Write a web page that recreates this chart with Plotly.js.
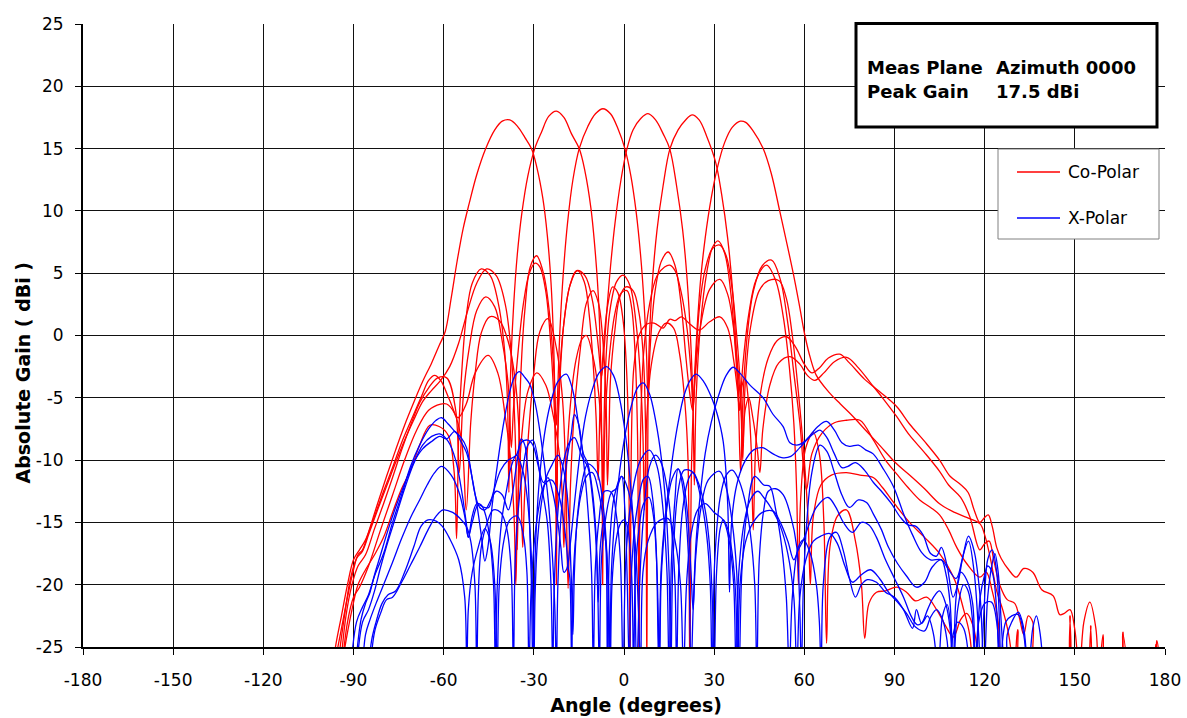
<!DOCTYPE html>
<html>
<head>
<meta charset="utf-8">
<script src="https://cdn.plot.ly/plotly-3.0.1.min.js"></script>
<style>html,body{margin:0;padding:0;background:#fff;}#chart{width:1187px;height:718px;}</style>
</head>
<body>
<div id="chart"></div>
<script>
// ---- axis ticks ----
const xTicks = [-180,-150,-120,-90,-60,-30,0,30,60,90,120,150,180];
const yTicks = [-25,-20,-15,-10,-5,0,5,10,15,20,25];

// ---- Co-Polar curves: [angle (deg), gain (dBi)] ----
const coPol1 = [[-96,-26],[-94,-23.5],[-92,-21],[-90,-18.8],[-88.5,-17.6],[-87,-17.2],[-85,-15.8],[-82,-13.5],[-79,-11.3],[-76,-9.2],[-73,-7.2],[-70,-5.4],[-67,-3.7],[-64,-2.2],[-61.5,-0.8],[-59.5,0.3],[-57.5,3],[-55.5,6],[-53.5,8.6],[-51.5,10.6],[-49,12.9],[-46,15],[-43,16.5],[-40.5,17.2],[-38,17.3],[-35.5,16.8],[-33,15.9],[-30.8,15],[-29,13.5],[-27,11],[-25.5,8],[-24.3,4.3],[-23.5,0],[-23,-5],[-22.7,-11],[-22.5,-20],[-22.2,-10],[-21.5,-3.5],[-20,1],[-18,4],[-15.5,5.2],[-13.2,4.3],[-11.5,1.5],[-10.2,-2.5],[-9.3,-6.5],[-8.6,-11.6],[-8,-6],[-7,-1.5],[-5.5,2.3],[-3.8,3.9],[-2,3.4],[-0.3,1.2],[0.8,-2.5],[1.5,-8],[2,-28],[2.5,-8],[3.3,-2.5],[5,0],[7.5,0.9],[10,1],[13,0.6],[15.2,1.3],[17,1.2],[19.1,1.5],[22,0.9],[25,0.44],[28.5,1.1],[31.9,1.5],[34.5,0.6],[36.5,-2],[37.8,-4.5],[38.5,-6],[39.3,-4],[40.3,-3.4],[41.3,-5],[42.3,-9],[43,-15.6],[43.8,-9],[45.5,-4.5],[48,-1.8],[51,-0.4],[54.1,-0.1],[57,-0.9],[60,-2.3],[62.5,-3],[65,-2.6],[68,-1.8],[71.8,-1.5],[75,-2.2],[80,-3.5],[85,-4.5],[90.7,-5.7],[95,-7.1],[100,-8.5],[105,-10],[108.5,-11.3],[111.7,-11.9],[114.5,-12.6],[116.5,-14],[118.4,-15],[120,-14.6],[121.2,-14.4],[122.5,-15.3],[124,-17],[125.5,-17.9],[128,-18.8],[130.5,-19.4],[133,-18.7],[136,-19],[139,-20.4],[142.8,-20.9],[145,-22.4],[146.5,-22.3],[148.4,-22],[150,-23.6],[151.5,-27],[153,-23],[155,-21.4],[157,-23.5],[158,-27],[159.4,-24],[160.5,-27],[165,-27],[166,-23.8],[167.3,-27],[176,-27],[177.3,-24.5],[178.5,-27]];

const coPol2 = [[-93.5,-26],[-92.5,-24.5],[-90.5,-22],[-88.5,-20],[-86,-18.8],[-83,-17.6],[-80,-16.2],[-77,-14.2],[-74,-12.3],[-71,-10.8],[-68,-8.8],[-64.6,-7.2],[-61.5,-7.3],[-58.5,-8],[-56.5,-11],[-55.7,-16.3],[-55,-8],[-54,-3],[-52.5,1.5],[-50.5,4.2],[-47.5,5.35],[-44.5,4.8],[-42,2.8],[-40,-0.5],[-38.8,-5],[-38.3,-12.6],[-38,-6],[-37.6,-2],[-36.7,2.5],[-35.5,6.5],[-34,9.8],[-32,12.8],[-29.7,15],[-27.5,16.3],[-25,17.6],[-22.5,18.0],[-20,17.5],[-17.5,16.2],[-14.9,15],[-13,13.2],[-11,10.2],[-9.5,6.5],[-8.4,2.5],[-7.7,-3],[-7.3,-10],[-7.1,-20],[-6.8,-10],[-6.2,-3],[-4.8,1.8],[-2.5,4.3],[-0.3,4.85],[2,4],[4,1],[5.5,-3.5],[6.3,-8],[6.8,-14],[7.5,-7],[9,-2.5],[11.5,0.2],[14,1],[16.5,0.6],[18.5,-1.5],[20.3,-5.5],[21.3,-10],[21.9,-27],[22.5,-10],[23.6,-3.5],[25.5,0.8],[28.5,3.7],[31.9,4.5],[34.5,3.3],[36.5,0.5],[38,-3],[39,-6],[39.5,-9],[40.3,-6],[41.5,-5],[42.8,-6.5],[44.3,-9],[45.2,-11],[46.2,-7.5],[48.5,-4],[51.5,-2.2],[55.2,-1.7],[58.5,-2.3],[61,-3.2],[63.5,-3.6],[66.5,-3],[70,-2.1],[74.1,-1.75],[78,-2.6],[82,-3.8],[86,-5],[90.7,-6.5],[95,-8],[100,-9.4],[105,-10.9],[108,-12],[112,-13],[115,-14.5],[118.4,-17.2],[120,-16.7],[121.5,-16.5],[123,-18],[125,-20],[127.5,-21.2],[130,-21.5],[131.5,-22.6],[133,-24],[134.5,-22.5],[136,-23],[137.5,-27],[154,-27],[155.3,-23.3],[156.5,-27],[175.5,-27],[177,-24.8],[178,-27]];

const coPol3 = [[-95,-26],[-93,-22.5],[-91,-19.5],[-89,-17.9],[-87,-17.3],[-85,-16],[-82,-14],[-79,-12.1],[-76,-10.2],[-73,-8.4],[-70,-6.8],[-67,-5.3],[-64,-4.4],[-61,-3.6],[-58,-2.5],[-55,-0.6],[-52,2],[-49,4.2],[-45.7,5.35],[-42.5,4.8],[-39.5,2.5],[-37.5,-1.5],[-36.2,-8],[-35.5,-17.2],[-35,-9],[-34.3,-3],[-33,2],[-31.2,5.5],[-29.1,6.4],[-26.8,5],[-24.8,1.8],[-23.3,-3],[-22.5,-7.2],[-22,-4],[-21.3,0.5],[-20.2,5],[-18.8,9],[-17,12.5],[-14.9,15],[-12,16.8],[-9.5,17.8],[-7,18.2],[-4.5,17.8],[-2,16.6],[0.3,15],[2.3,12.8],[4,10],[5.5,6.5],[6.7,2.5],[7.5,-1.5],[8,-5.2],[8.7,-1],[10.3,3.5],[12.5,6],[14.7,6.7],[17,5.6],[19,2.5],[20.5,-1.5],[21.8,-4.5],[22.8,-6],[23.7,-3],[25,2],[27,5.3],[29.5,7],[31.9,7.25],[34,6.4],[36,3.7],[37.5,0],[38.7,-4],[39.5,-10],[40.3,-4],[42,0.5],[45,3.6],[48,4.4],[51.6,4.4],[54,3],[56,0],[58,-4.5],[60,-10],[61.3,-15],[62,-20],[63,-14.5],[65.5,-12],[69,-11.2],[74,-11],[78.5,-11.2],[82.9,-11.4],[86,-12.2],[90,-13.5],[95,-15],[100,-16.2],[105,-17.5],[110,-19.6],[113,-22],[115,-24],[116,-27]];

const coPol4 = [[-94.5,-27],[-92.5,-22.5],[-90.5,-20],[-88.5,-18.5],[-86,-17.6],[-83,-15.5],[-80,-13.5],[-77,-11.4],[-74,-9.2],[-71,-7.2],[-68,-5.4],[-65,-4.2],[-62,-3.4],[-59,-3.4],[-56,-6],[-54.8,-11],[-53.5,-5],[-51.5,-1],[-49,2],[-46,3.1],[-43,2.3],[-40.5,-0.5],[-38.5,-4],[-37.5,-9],[-36.8,-6],[-35.5,-2],[-33.5,2.5],[-31.5,5],[-29.6,5.8],[-28,5.5],[-26,3.5],[-24.3,-1],[-23,-7],[-22.4,-14.8],[-22,-8],[-21.2,-3],[-20,1],[-18,4],[-15.8,5.2],[-13,4.8],[-10.5,2.8],[-8.5,-1],[-7.5,-3.3],[-6.6,-1],[-5.7,2],[-4.5,5.5],[-3,9],[-1,12.5],[1,15],[3,16.5],[5.5,17.4],[8,17.8],[10.5,17.3],[13,16.2],[15.2,15],[17.5,12],[19.5,8.5],[21,4.5],[22.3,-1],[23,-6],[23.4,-12],[24,-5],[25.5,1],[27.5,5],[29.5,7.1],[31.3,7.6],[33.5,6.6],[35.5,3.5],[37,-1],[38,-5],[38.8,-11],[39.6,-5],[41,0],[43,3.5],[46,5.6],[49.1,6.05],[52,4.5],[54.5,1],[56.5,-3],[58.5,-7],[60.7,-12.4],[62.5,-9.5],[66,-7.8],[70,-7],[74,-6.8],[78.5,-6.8],[83,-8.4],[87,-10],[90.7,-11.1],[94.5,-12.2],[98.4,-13.2],[102,-13.8],[105,-14.4],[108,-15.6],[110.7,-17],[114,-18.3],[118.4,-19.4],[120.5,-19],[122.5,-20.5],[124.5,-23],[126,-27],[129,-27],[131,-23.6],[132.5,-27],[147,-27],[148.4,-22.5],[150,-27],[164.5,-27],[166,-24],[167.5,-27]];

const coPol5 = [[-94,-27],[-92,-23],[-90,-21],[-88,-20.2],[-85,-18.5],[-81,-15.6],[-77,-12.8],[-73,-10],[-69,-7.6],[-65,-6],[-61,-5.5],[-59,-5.5],[-56.5,-6.2],[-54,-8.5],[-52.5,-14],[-51,-7],[-49.5,-3],[-47.5,0.2],[-44.7,1.5],[-41.5,1.2],[-38.5,-0.5],[-36,-4],[-34.5,-10],[-33.7,-17],[-33.1,-13],[-31.8,-8],[-30,-3],[-28,0.3],[-25.3,1.35],[-22.5,-1],[-20.5,-5],[-19.4,-11],[-18.6,-20.3],[-17.8,-12],[-16.5,-6],[-14.5,-1],[-12.5,2.6],[-10.3,3.6],[-8.5,2.6],[-7,-0.5],[-6,-5],[-5.5,-12],[-5,-8],[-4.5,-3.5],[-3,0.5],[-1.5,3],[0.6,3.9],[3,3.6],[5,1.8],[6.5,-2],[7.2,-8],[7.6,-27],[8,-5],[8.5,0],[9.5,4.5],[11,8.5],[13,12],[15.3,15],[18,16.5],[20.5,17.3],[22.7,17.7],[25,17.3],[27.5,16],[30.5,13.9],[32.5,11.3],[34.5,7.8],[36,4],[37.2,-0.5],[38,-4],[38.5,-6],[39.5,-2.5],[41.5,1.7],[44,4.5],[47.4,5.65],[50.5,4.4],[53,1.5],[55,-2.5],[56.5,-7],[57.5,-13],[58,-20],[58.8,-13],[60.5,-9],[63,-7.8],[65,-9.5],[66.5,-15],[67.4,-24.7],[68.5,-17],[71,-14.5],[74,-14],[77,-16.5],[79,-20],[80.1,-24.3],[81.5,-21.5],[84,-20.6],[87,-20.5],[90.7,-20.2],[94,-20.6],[97,-21.3],[100.7,-21],[104,-22],[107,-23.3],[109.6,-24.2],[112,-22.8],[114,-22.3],[116,-23.2],[117.5,-25],[118.5,-27]];

const coPol6 = [[-97,-27],[-96,-25],[-94,-22.5],[-92,-20],[-90,-18],[-88,-17.2],[-86,-16.4],[-83,-14.5],[-80,-12.5],[-77,-10.6],[-74,-8.6],[-71,-6.9],[-67.4,-4.9],[-65,-3.6],[-63,-3.2],[-61,-3.6],[-58,-5.2],[-55.2,-6.6],[-52.5,-5.5],[-49.5,-3],[-45.2,-1.6],[-42,-3],[-39.5,-6.5],[-37.7,-10],[-36.5,-15],[-36,-20],[-35.4,-14],[-34,-8],[-32,-4.5],[-29,-3],[-26,-4],[-23.5,-6.5],[-21.5,-9.5],[-20.5,-13],[-20,-17],[-19.4,-12],[-18,-6],[-16,-2],[-14,-0.3],[-12.5,0],[-10.5,-1.5],[-8.5,-4.5],[-7.5,-8],[-6.9,-14],[-6.3,-7],[-5,-2],[-3,1.8],[-1,3.4],[1,3.6],[2.5,2.3],[3.7,-1.5],[4.5,-8],[5,-27],[5.5,-8],[6.5,-1.5],[8.5,2.5],[11,4.8],[13.5,5.5],[15.2,5.65],[17,5.2],[19,3.5],[21,0.5],[22.3,-3],[23,-6],[23.5,-3],[24.3,0.5],[25.5,4.5],[27,7.8],[29,11],[31,13.4],[33.5,15.5],[36,16.7],[38.7,17.2],[40.5,17.1],[43,16.4],[46.3,15],[49,13],[51.8,10],[54,7.6],[56.3,5],[58.3,2.5],[60.2,0],[62,-1.8],[64,-3.2],[68,-4.5],[72,-5.5],[76.2,-6.5],[80,-7.5],[85,-8.8],[90.7,-10.3],[95,-11.2],[100,-12.3],[105,-13.5],[110,-14.2],[114,-14.6],[118.4,-15.1],[120,-16],[122,-18],[124,-20.5],[126,-22],[128,-24],[129.5,-27]];

// ---- X-Polar curves: [angle (deg), gain (dBi)] ----
const xPol1 = [[-91,-27],[-89,-23],[-87,-21.8],[-85,-20.8],[-83,-19.3],[-80,-17.5],[-77,-15],[-74,-12.8],[-71,-10.5],[-68,-8.8],[-65,-7.5],[-62.5,-6.8],[-60.7,-6.6],[-58.5,-7.1],[-56.3,-7.7],[-54.2,-8.2],[-52.4,-9],[-50.7,-11.2],[-49,-13.5],[-47.5,-16],[-46.3,-18.1],[-45.3,-17],[-43.8,-13.5],[-41.8,-9.8],[-39.8,-6.7],[-37.8,-4.3],[-36.2,-3.2],[-34.8,-2.9],[-33.2,-3.3],[-31.4,-3.9],[-29.5,-5.5],[-27.5,-8.5],[-25.5,-12.5],[-24,-17],[-23,-22],[-22.5,-27],[-22,-20],[-20.8,-14],[-19,-10],[-17.6,-8],[-16.5,-6.35],[-15.2,-7],[-13.5,-10],[-12,-14],[-10.8,-19],[-10.2,-27],[-9.6,-19],[-8.4,-15],[-6.5,-12.5],[-4.2,-12.6],[-2.5,-14.5],[-1.2,-18],[-0.3,-27],[0.6,-18],[2.5,-13],[5.5,-10],[8.5,-9.2],[11,-10.5],[13,-14],[14.3,-19],[15,-27],[15.8,-18],[17,-13],[18,-10.7],[19.5,-11.5],[21,-14],[22.3,-19],[23,-22],[23.8,-18],[25.5,-14],[28,-11.6],[31.8,-10.9],[34,-12.2],[36,-15],[37.5,-19],[38.3,-27],[39.2,-19],[41,-14],[43.5,-11.3],[46.5,-12],[48.5,-12.1],[50.5,-14],[52.5,-17],[54,-21],[55,-27],[56,-21],[58,-17],[59.7,-16.4],[62,-17.5],[64,-20],[65,-23],[65.6,-27],[66.3,-20],[68.5,-16.2],[70.7,-15.8],[73,-17.3],[75,-19.5],[77,-21],[79,-20],[81,-19.6],[84,-19.8],[87,-20.6],[90,-21],[93,-22],[96,-23.5],[97.3,-22],[99,-23.1],[101,-22.5],[103,-24],[104.5,-27],[106,-22.5],[107.5,-21.6],[109,-24],[110,-27],[126,-27],[127.5,-24],[129,-23],[131.2,-22.2],[133,-23.5],[134.5,-27],[136,-23.5],[137.2,-22.5],[138.5,-24],[139.5,-27]];

const xPol2 = [[-89,-27],[-87,-23],[-85,-22],[-83,-20.5],[-81,-18.6],[-78.5,-16.5],[-76,-14.6],[-73,-12.3],[-70,-10.3],[-67,-8.8],[-64,-8.1],[-61.3,-7.9],[-58.5,-8.5],[-56,-10],[-54,-12.5],[-52.5,-15],[-51.8,-16.2],[-50.5,-15],[-48.5,-13.6],[-46.5,-13.8],[-45,-13.8],[-43.5,-12.6],[-41,-10.8],[-38.5,-10],[-35.8,-9.6],[-34.2,-8.3],[-33,-8.8],[-32,-11],[-31.4,-15.1],[-30.8,-20],[-30.3,-27],[-29.6,-18],[-28.3,-12],[-26.5,-8],[-24.5,-5.5],[-22,-3.7],[-19.2,-3.1],[-17.5,-4],[-16.5,-5],[-15,-7.3],[-13.5,-9.5],[-12,-10.3],[-10.5,-12.5],[-9.3,-16],[-8.6,-21.4],[-7.9,-17],[-6.8,-15],[-6,-17],[-5.5,-27],[-4.8,-17],[-3.3,-13],[-0.8,-11.3],[1.5,-12.5],[3.5,-16],[4.8,-22],[5.5,-27],[6.3,-19],[8,-16.5],[11,-15],[14.7,-14.7],[17,-16.5],[18.8,-20],[19.8,-27],[20.8,-20],[22.3,-16],[24.5,-14],[27,-13.5],[30,-14.2],[33,-14.8],[35,-16.5],[36.5,-20],[37.3,-27],[38.2,-19],[40,-15],[42,-13.2],[44.5,-12.5],[46.5,-13],[49.6,-14.1],[52,-15.3],[54.5,-17.5],[56.5,-21],[57.5,-27],[58.5,-21],[60.5,-18],[63,-16.5],[65.5,-16.1],[68.5,-15.9],[71,-16.7],[73.5,-18.5],[76,-19.8],[79,-19.2],[82,-18.8],[85,-19.5],[88,-20.6],[91,-21.4],[94,-22.3],[97,-23.4],[100,-23.7],[102,-22.6],[104,-22],[106,-22.8],[107.5,-24.5],[108.3,-27],[109.5,-24],[111,-23],[113,-23.5],[115,-27]];

const xPol3 = [[-89.5,-27],[-87.5,-22.8],[-86,-21.5],[-84.5,-20.6],[-83,-19.2],[-81,-17.6],[-78.5,-15.6],[-76,-13.8],[-73,-11.9],[-70,-10.2],[-67,-9.1],[-64,-8.5],[-61.3,-8.1],[-59,-8.3],[-56.3,-7.7],[-54.3,-8.5],[-52.4,-9.4],[-51,-10.8],[-49.5,-12.8],[-48,-13.8],[-46.3,-14],[-44.5,-13.3],[-42.5,-12.5],[-40.5,-12.8],[-38.5,-14],[-37.2,-12.8],[-35.8,-10.5],[-34.2,-8.6],[-32,-8.4],[-30.3,-8.8],[-28.5,-10.5],[-26.8,-11.8],[-25.3,-11.4],[-23.8,-12.5],[-22.3,-14.5],[-21,-17],[-20,-19],[-19,-18.7],[-18,-17],[-16.5,-13.5],[-14.8,-9.8],[-12.8,-6.5],[-10.5,-4.3],[-8.3,-3],[-5.8,-2.5],[-3.5,-3.2],[-1.5,-5],[0.5,-8],[2,-11.5],[3.3,-16],[4.2,-27],[5.2,-19.9],[6.5,-14.5],[8.5,-10.5],[10.5,-9.6],[12.5,-10.3],[14.5,-12.5],[16,-16],[17,-20],[17.5,-27],[18.2,-19],[19.5,-14],[21.5,-11.5],[23,-11],[25,-12],[27,-14],[28.5,-17],[29.5,-22],[30,-27],[30.8,-19],[32,-15.5],[33,-14.8],[34.5,-15.5],[36,-17.5],[37.2,-21],[37.8,-27],[38.6,-20],[40.5,-16.5],[43,-15],[46,-14.2],[49.6,-14.1],[52,-15],[54.5,-16.5],[56.5,-18],[58,-17.2],[59.7,-16.4],[61.5,-15.2],[64,-13.8],[67.9,-13],[70.5,-13.8],[73,-15],[76,-15.8],[79,-15],[81.5,-15.2],[84,-16.2],[87,-18],[90,-19.5],[93,-21],[95.5,-22.5],[97.5,-23.2],[99,-23.1],[101,-22],[103,-21],[105,-20.5],[107,-21.5],[108.5,-23.5],[109.5,-27],[111,-22],[113,-20],[114.5,-20.5],[116,-23],[116.8,-27],[118,-23],[120,-21.5],[122.3,-21.4],[124,-23],[125,-27]];

const xPol4 = [[-87,-27],[-86,-24],[-84.5,-22.8],[-82.5,-21.5],[-80,-20],[-77,-18.2],[-74,-16.3],[-71,-14.6],[-68,-13.2],[-65.5,-12],[-63,-11],[-60.7,-10.5],[-57.5,-11.2],[-55,-12.5],[-53,-14.5],[-51.8,-16.2],[-50.5,-14.5],[-49,-13.5],[-47.5,-13.6],[-46.3,-14.2],[-44.8,-16],[-43.4,-20],[-42.8,-27],[-42.3,-21],[-41.5,-17],[-40.5,-14.5],[-39,-12.3],[-37.5,-10.5],[-35.8,-9.6],[-33.5,-11],[-32,-13.5],[-30.6,-19],[-30,-27],[-29.6,-21],[-28.8,-16.5],[-27.5,-13.5],[-25.9,-11.4],[-24,-10.4],[-22,-9.6],[-20.5,-10.4],[-19,-12.5],[-17.6,-19],[-17,-24],[-16.5,-19],[-15.5,-14.5],[-14,-11.8],[-12,-10.3],[-9,-11],[-7,-13.5],[-5.6,-18],[-4.8,-27],[-4.2,-19],[-3,-14.5],[-1.5,-11],[0.5,-7.8],[2.5,-5.6],[4.5,-4.2],[6.4,-3.8],[8.5,-4.7],[10.5,-6.8],[12.5,-10],[14,-14],[15,-19],[15.6,-27],[16.3,-18],[18,-12.5],[20,-10.8],[23,-11],[25.5,-13],[27.5,-16],[28.7,-20],[29.3,-27],[30.2,-18],[32,-13],[34,-11.2],[36,-10.8],[38,-11.5],[40,-13],[42,-15.8],[43.5,-20],[44.2,-27],[45,-18],[46.5,-14],[48,-12.5],[50.5,-12.3],[53,-12.8],[55.5,-14.5],[57.5,-17],[58.5,-22],[59,-27],[59.7,-20],[60.8,-15],[62.5,-11],[65.2,-8.8],[67.5,-9.3],[70,-11],[72.5,-12.8],[75,-13.8],[78,-13.2],[80.7,-13.4],[82.9,-14.3],[85.5,-15.5],[88,-17],[91,-18.3],[94,-19.3],[97.3,-20.2],[100,-19.8],[102.5,-18.6],[105.6,-18],[107,-19],[108.5,-21.5],[109.5,-27],[110.5,-21],[112,-19],[114,-19.6],[116,-21.5],[117,-27],[118.5,-21],[120,-19.2],[121,-18.5],[122.5,-19],[124,-22],[125,-27],[127,-23],[129,-22.5],[131.2,-22.4],[133,-24],[134,-27]];

const xPol5 = [[-84.5,-27],[-83,-23.8],[-81,-22.3],[-79,-21.2],[-77,-21],[-74,-19.8],[-71,-18.4],[-68,-17],[-65,-15.5],[-62.5,-14.5],[-60.2,-14],[-57,-14.2],[-54.5,-14.7],[-52.5,-15.3],[-51,-16.5],[-49.6,-20],[-49,-27],[-48.5,-21],[-47.5,-17],[-45.5,-15],[-43.5,-14],[-41,-14.2],[-39,-15.5],[-37.5,-19],[-36.8,-27],[-36.2,-18],[-35,-13.5],[-33.5,-10.5],[-32,-8.8],[-30.3,-8.4],[-27.5,-12],[-25.5,-15],[-24.3,-20],[-23.7,-27],[-23.3,-21],[-22.5,-16],[-21.5,-12.8],[-20,-10],[-18.2,-8.6],[-16.5,-8.2],[-14,-9.7],[-12,-10.6],[-10.5,-13],[-9,-18],[-8.2,-27],[-7.5,-18],[-6,-14.5],[-4.2,-12.6],[-2.6,-12.3],[-0.8,-11.3],[0.3,-14],[1,-19],[1.8,-27],[2.3,-20],[3.5,-15.5],[5,-13],[6.5,-11.5],[8,-11.3],[9.5,-13],[10.7,-17],[11.6,-27],[12.3,-19],[13.5,-15],[15,-12],[16.5,-9.2],[18,-7],[20,-4.8],[22,-3.6],[24,-3.1],[26.5,-3.7],[29,-4.9],[31,-6.3],[33,-8.5],[34.5,-13.5],[35.1,-20.6],[35.8,-15],[37.5,-12],[40,-10.2],[43,-9.2],[46,-9],[49.6,-9.5],[52.5,-9.8],[55.5,-9.7],[58.5,-9],[61.5,-8.2],[63.5,-7.8],[65.2,-7.6],[67.5,-8.2],[70,-9.5],[72.5,-10.6],[74.5,-10.5],[77,-10.2],[80,-10.8],[83,-11.8],[86,-12.6],[89,-13.5],[92,-14.6],[94.5,-15.2],[97,-15.3],[99.5,-16],[102,-17.5],[104,-17.7],[105.6,-17],[107.5,-18.5],[109.5,-21],[111,-20],[113,-17.5],[114.6,-16.5],[116.5,-19],[118,-24],[118.7,-27],[119.8,-22],[121,-18],[122.5,-17.2],[124,-19],[125.3,-27]];

const xPol6 = [[-85,-27],[-84,-24.5],[-82.5,-23],[-80.5,-21.5],[-78.5,-20.8],[-76,-20.5],[-73,-19],[-70,-17],[-67.5,-15.3],[-65.2,-14.8],[-62.5,-14.9],[-60.5,-15.3],[-58,-16.3],[-55,-18],[-53,-21],[-52.3,-27],[-51.8,-22],[-50.5,-19],[-48.5,-17],[-46.3,-15.5],[-44.5,-16.5],[-43,-20],[-42.2,-27],[-41.5,-20],[-40,-16.5],[-38,-14.8],[-35.5,-14.5],[-33.5,-16],[-32.3,-19],[-31.6,-27],[-31,-21],[-30,-17],[-28.5,-14],[-26.5,-12],[-24,-11.6],[-21.5,-13],[-19.5,-16],[-18.5,-18.7],[-18,-19.5],[-17.4,-27],[-17,-20],[-16,-16],[-14.5,-13],[-12.5,-11.3],[-10.5,-11],[-8.5,-12.5],[-6.8,-15],[-5.3,-19],[-4.6,-27],[-4,-20],[-3,-17],[-1.4,-15.2],[0,-14.8],[1,-15.2],[2.5,-19],[3.2,-27],[3.8,-19],[5,-15.5],[6.5,-13.5],[8.3,-13],[9.8,-14.5],[11,-19],[11.8,-27],[12.3,-20],[13,-17],[14.2,-14],[16,-11.5],[18,-10.7],[20,-13],[21.5,-18],[22.3,-27],[23,-22],[24,-16.5],[25.5,-12.5],[27,-9.5],[29,-7],[31.5,-4.8],[34,-3.2],[36.3,-2.55],[38.5,-3],[42,-4],[46.3,-5],[49.5,-6.3],[52.9,-7.3],[55.2,-8.6],[57.5,-8.8],[59.6,-8.6],[62,-8],[64.5,-7.3],[67.4,-6.9],[70,-7.6],[72.5,-8.6],[75,-8.9],[78,-8.8],[80.5,-9.2],[82.9,-9.5],[86,-10.6],[89.6,-12.1],[93,-14.3],[96,-16],[99,-17.4],[102,-18],[105.6,-18],[108,-18.8],[110.5,-19.5],[112.5,-18],[114.6,-16.1],[116.5,-17.3],[118.5,-21],[119.8,-27],[121,-21],[122.5,-18.3],[123.4,-17.5],[124.5,-19],[125.5,-23],[126.5,-27]];

const coPolar = [coPol1, coPol2, coPol3, coPol4, coPol5, coPol6];
const xPolar = [xPol1, xPol2, xPol3, xPol4, xPol5, xPol6];

const legendNames = ['Co-Polar', 'X-Polar'];
const boxLines = [['Meas Plane', 'Azimuth 0000'], ['Peak Gain', '17.5 dBi']];

const FONT = 'DejaVu Sans, Verdana, sans-serif';

function mk(pts, color, name) {
  return {
    type: 'scatter', mode: 'lines', name: name,
    x: pts.map(p => p[0]), y: pts.map(p => p[1]),
    line: {color: color, width: 1.3, shape: 'spline', smoothing: 1},
    hoverinfo: 'skip', showlegend: false
  };
}
const traces = [];
coPolar.forEach(c => traces.push(mk(c, '#ff0000', legendNames[0])));
xPolar.forEach(c => traces.push(mk(c, '#0000ff', legendNames[1])));

// plot area in pixels: x 83..1165, y 24..647
const PL = 83, PR = 1165, PT = 24, PB = 647;
const px = v => (v - PL) / (PR - PL);
const py = v => (PB - v) / (PB - PT);

const shapes = [
  // info box
  {type: 'rect', xref: 'paper', yref: 'paper', x0: px(856), x1: px(1157), y0: py(127), y1: py(23.5),
   line: {color: '#000', width: 3}, fillcolor: '#fff', layer: 'above'},
  // legend box
  {type: 'rect', xref: 'paper', yref: 'paper', x0: px(998), x1: px(1159), y0: py(239), y1: py(149),
   line: {color: '#808080', width: 1}, fillcolor: '#fff', layer: 'above'},
  {type: 'line', xref: 'paper', yref: 'paper', x0: px(1017), x1: px(1060), y0: py(172), y1: py(172),
   line: {color: '#ff0000', width: 1.3}, layer: 'above'},
  {type: 'line', xref: 'paper', yref: 'paper', x0: px(1017), x1: px(1060), y0: py(218), y1: py(218),
   line: {color: '#0000ff', width: 1.3}, layer: 'above'}
];

const annotations = [
  {text: '<b>' + boxLines[0][0] + '</b>', x: px(865), y: py(67)},
  {text: '<b>' + boxLines[0][1] + '</b>', x: px(994), y: py(67)},
  {text: '<b>' + boxLines[1][0] + '</b>', x: px(865), y: py(92)},
  {text: '<b>' + boxLines[1][1] + '</b>', x: px(994), y: py(92)}
].map(a => Object.assign(a, {xref: 'paper', yref: 'paper', xanchor: 'left', yanchor: 'middle',
  showarrow: false, font: {family: FONT, size: 18, color: '#000'}}));

annotations.push({text: legendNames[0], x: px(1066), y: py(172), xref: 'paper', yref: 'paper',
  xanchor: 'left', yanchor: 'middle', showarrow: false, font: {family: FONT, size: 17, color: '#000'}});
annotations.push({text: legendNames[1], x: px(1066), y: py(218), xref: 'paper', yref: 'paper',
  xanchor: 'left', yanchor: 'middle', showarrow: false, font: {family: FONT, size: 17, color: '#000'}});
// y axis title (placed as in the reference, below centre)
annotations.push({text: '<b>Absolute Gain ( dBi )</b>', x: px(22), y: py(372.5), xref: 'paper', yref: 'paper',
  xanchor: 'center', yanchor: 'middle', textangle: -90, showarrow: false,
  font: {family: FONT, size: 19, color: '#000'}});

const axisCommon = {
  showgrid: true, gridcolor: '#111', gridwidth: 1,
  showline: true, linecolor: '#000', linewidth: 2,
  ticks: 'outside', ticklen: 6, tickcolor: '#000', tickwidth: 1,
  zeroline: false, tickfont: {family: FONT, size: 17, color: '#000'},
  fixedrange: true
};

const layout = {
  width: 1187, height: 718,
  margin: {l: PL, r: 1187 - PR, t: PT, b: 718 - PB, pad: 0},
  paper_bgcolor: '#fff', plot_bgcolor: '#fff',
  showlegend: false,
  font: {family: FONT, color: '#000'},
  xaxis: Object.assign({}, axisCommon, {
    range: [-180, 180], tickmode: 'array', tickvals: xTicks, ticktext: xTicks.map(String),
    ticklabelstandoff: 11,
    title: {text: '&nbsp;&nbsp;&nbsp;&nbsp;<b>Angle (degrees)</b>', font: {family: FONT, size: 19, color: '#000'}, standoff: 9}
  }),
  yaxis: Object.assign({}, axisCommon, {
    range: [-25, 25], tickmode: 'array', tickvals: yTicks, ticktext: yTicks.map(String),
    ticklabelstandoff: 8
  }),
  shapes: shapes,
  annotations: annotations
};

Plotly.newPlot('chart', traces, layout, {displayModeBar: false, staticPlot: true});
</script>
</body>
</html>
